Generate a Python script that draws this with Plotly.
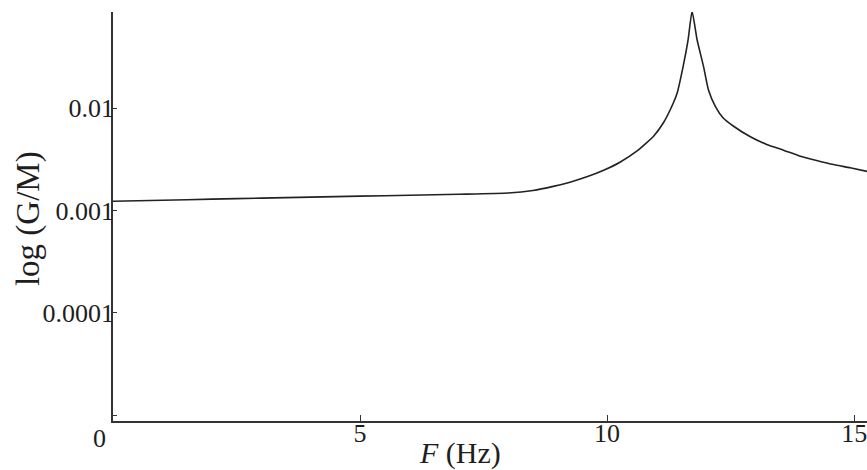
import plotly.graph_objects as go

# Data (F in Hz, G/M on log scale)
freq = [0, 1, 2, 3, 4, 5, 6, 7, 8, 8.5, 8.91, 9.25, 9.59, 9.93, 10.26, 10.60,
        10.94, 11.14, 11.34, 11.42, 11.54, 11.64, 11.72, 11.82, 11.95, 12.05,
        12.19, 12.35, 12.56, 12.90, 13.23, 13.57, 13.91, 14.24, 14.58, 14.92,
        15.26]
gm = [0.00123, 0.00126, 0.00129, 0.00132, 0.00135, 0.00138, 0.00141, 0.00144,
      0.00148, 0.00157, 0.00172, 0.00189, 0.00213, 0.00247, 0.00296, 0.00379,
      0.00531, 0.00718, 0.0112, 0.0141, 0.0256, 0.0466, 0.088, 0.0466, 0.0256,
      0.0151, 0.0104, 0.0080, 0.00664, 0.00524, 0.00441, 0.00388, 0.00339,
      0.00308, 0.00281, 0.00261, 0.00241]

x_tickvals = [5, 10, 15]
x_ticktext = ["5", "10", "15"]
y_tickvals = [1e-5, 1e-4, 1e-3, 1e-2]
y_ticktext = ["", "0.0001", "0.001", "0.01"]

FONT = "Liberation Serif"
INK = "#1e1e1e"

fig = go.Figure()
fig.add_trace(go.Scatter(
    x=freq, y=gm, mode="lines",
    line=dict(color="#222222", width=1.6, shape="spline", smoothing=0.5),
    showlegend=False, hoverinfo="skip",
))

fig.update_layout(
    width=867, height=470,
    margin=dict(l=113, r=0, t=12, b=49),
    paper_bgcolor="white", plot_bgcolor="white",
    font=dict(family=FONT, size=26, color=INK),
    xaxis=dict(
        range=[0, 15.26], tickvals=x_tickvals, ticktext=x_ticktext,
        ticks="inside", ticklen=6, tickwidth=1.2, tickcolor="#333",
        showline=True, linecolor="#333", linewidth=1.6,
        showgrid=False, zeroline=False, mirror=False,
        tickfont=dict(family=FONT, size=26, color=INK),
        ticklabelstandoff=-12, ticklabeloverflow="allow",
    ),
    yaxis=dict(
        type="log", range=[-5.054, -1.063],
        tickvals=y_tickvals, ticktext=y_ticktext,
        ticks="inside", ticklen=4, tickwidth=1.2, tickcolor="#333",
        showline=True, linecolor="#333", linewidth=1.6,
        showgrid=False, zeroline=False, mirror=False,
        tickfont=dict(family=FONT, size=26, color=INK),
        ticklabelstandoff=-8, ticklabeloverflow="allow",
    ),
    annotations=[
        dict(text="0", x=0, xref="x", y=0, yref="paper", xshift=-14, yshift=-1,
             showarrow=False, xanchor="center", yanchor="top",
             font=dict(family=FONT, size=26, color=INK)),
        dict(text="<i>F</i> (Hz)", x=0.46, xref="paper", y=-0.078, yref="paper",
             showarrow=False, xanchor="center", yanchor="middle",
             font=dict(family=FONT, size=30, color=INK)),
        dict(text="log (G/M)", x=-0.112, xref="paper", y=0.495, yref="paper",
             showarrow=False, xanchor="center", yanchor="middle", textangle=-90,
             font=dict(family=FONT, size=33, color=INK)),
    ],
)

fig.write_html(
    "out.html",
    config={"displayModeBar": False},
    post_script="document.body.style.margin='0';document.body.style.overflow='hidden';",
)
